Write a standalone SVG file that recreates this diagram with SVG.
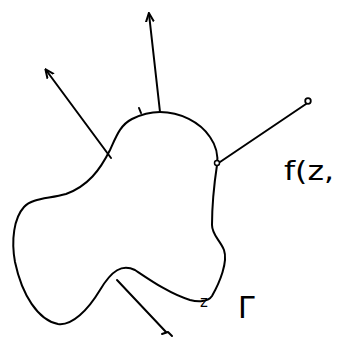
<svg xmlns="http://www.w3.org/2000/svg" width="338" height="338" viewBox="0 0 338 338">
<style>
.ln{fill:none;stroke:#000;stroke-width:2;stroke-linecap:round;stroke-linejoin:round}
.t{font-family:"DejaVu Sans","Liberation Sans",sans-serif;fill:#000}
</style>
<defs>
<marker id="ah" viewBox="0 0 10 10" refX="8" refY="5" markerWidth="5" markerHeight="5" orient="auto">
<path d="M0,1 L9,5 L0,9" fill="none" stroke="#000" stroke-width="2"/>
</marker>
</defs>
<rect width="338" height="338" fill="#fff"/>
<g id="region">
<path class="ln" d="M160,112 C180,112 200,122 210,137 C217,147 218,158 217,165 C214,185 212,205 212,225 C212,235 220,240 224,250 C228,262 220,282 212,296 C208,302 198,302 190,300 C170,294 150,280 135,270 C122,264 112,270 100,290 C88,310 72,326 58,324 C38,320 22,295 15,262 C11,240 14,218 24,207 C32,198 48,199 66,194 C88,186 100,170 110,150 C116,137 120,125 132,119 C142,114 150,112 160,112 Z"/>
</g>
<g id="connectors">
<line class="ln" x1="160" y1="112" x2="149" y2="14" marker-end="url(#ah)"/>
<line class="ln" x1="111" y1="158" x2="46" y2="70" marker-end="url(#ah)"/>
<line class="ln" x1="220" y1="162" x2="306" y2="104"/>
<line class="ln" x1="117" y1="280" x2="166" y2="332"/>
<path class="ln" d="M162,334 L168,332 L172,336" stroke-width="1.5"/>
</g>
<g id="point-z">
<circle cx="217" cy="163" r="2.5" fill="#fff" stroke="#000" stroke-width="1.5"/>
</g>
<g id="end-point">
<circle cx="308" cy="101" r="2.8" fill="#fff" stroke="#000" stroke-width="1.8"/>
</g>
<g id="tick">
<path class="ln" d="M139,108 L141,113" stroke-width="1.2"/>
</g>
<g id="label-f">
<text class="t" x="284" y="180" font-size="26" textLength="50" lengthAdjust="spacingAndGlyphs">f(z,</text>
</g>
<g id="label-z">
<text class="t" x="200" y="307" font-size="15">z</text>
</g>
<g id="label-gamma">
<text class="t" x="238" y="318" font-size="30">Γ</text>
</g>
</svg>
